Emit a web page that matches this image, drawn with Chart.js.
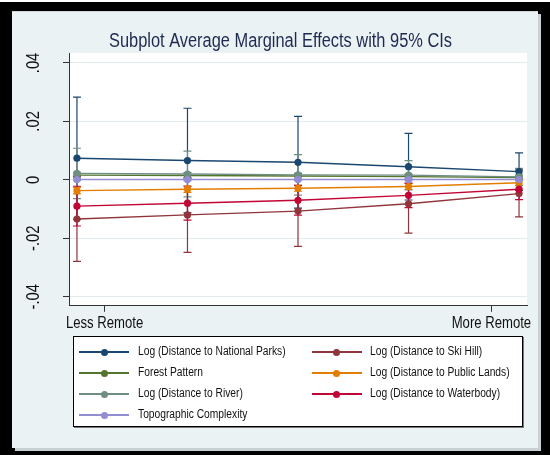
<!DOCTYPE html>
<html lang="en">

<head>
   <meta charset="UTF-8">
   <title>Subplot Average Marginal Effects</title>
   <style>
      body {
         margin: 0;
         width: 550px;
         height: 455px;
         background-color: #ffffff;
         position: relative;
         overflow: hidden;
         font-family: 'Liberation Sans', Arial, sans-serif;
      }

      #frame {
         position: absolute;
         left: 0;
         top: 2px;
         width: 550px;
         height: 453px;
         background-color: #000;
      }

      #panel {
         position: absolute;
         left: 12px;
         top: 11px;
         width: 526px;
         height: 437px;
         background-color: #eaf2f3;
         border-top: 1px solid #cfd7da;
         box-sizing: border-box;
         box-shadow: 3px 3px 0 #c9d0d3;
      }

      #myChart {
         position: absolute;
         left: 0;
         top: 0;
      }

      #legend {
         position: absolute;
         left: 73px;
         top: 336px;
         width: 450px;
         height: 91px;
         box-sizing: border-box;
         background: #fff;
         border: 1px solid #000;
         box-shadow: 1px 1px 0 #777;
      }

      .item {
         position: absolute;
         height: 20px;
         width: 230px;
      }

      .item .line {
         position: absolute;
         left: 0;
         top: 9.3px;
         width: 50px;
         height: 1.5px;
      }

      .item .dot {
         position: absolute;
         left: 21.5px;
         top: 6.5px;
         width: 7px;
         height: 7px;
         border-radius: 50%;
      }

      /* Stata exported with a narrow sans; squeeze the text to match */
      .item .text {
         position: absolute;
         left: 58.5px;
         top: 2px;
         font-size: 12.5px;
         color: #111;
         white-space: nowrap;
         transform: scaleX(0.82);
         transform-origin: left center;
      }
   </style>
</head>

<body>
   <div id="frame"></div>
   <div id="panel"></div>
   <canvas id="myChart" width="550" height="455"></canvas>
   <div id="legend"></div>

   <script src="https://cdn.jsdelivr.net/npm/chart.js"></script>
   <script>
      // remoteness steps along the x axis
      const xValues = [1, 2, 3, 4, 5];
      const xTickValues = [1.25, 4.75];
      const xTickLabels = ['Less Remote', 'More Remote'];

      const yTickValues = [-0.04, -0.02, 0, 0.02, 0.04];
      const yTickLabels = ['-.04', '-.02', '0', '.02', '.04'];

      const seriesNames = [
         'Log (Distance to National Parks)',
         'Log (Distance to Ski Hill)',
         'Forest Pattern',
         'Log (Distance to Public Lands)',
         'Log (Distance to River)',
         'Log (Distance to Waterbody)',
         'Topographic Complexity'
      ];
      const seriesColors = ['#1a476f', '#90353b', '#55752f', '#e37e00', '#6e8e84', '#c10534', '#938dd2'];

      // point estimates
      const nationalParks = [0.0074, 0.0066, 0.0060, 0.0045, 0.0028];
      const skiHill = [-0.0134, -0.0120, -0.0107, -0.0082, -0.0047];
      const forestPattern = [0.0016, 0.0015, 0.0013, 0.0011, 0.0008];
      const publicLands = [-0.0037, -0.0032, -0.0029, -0.0023, -0.0010];
      const river = [0.0022, 0.0020, 0.0017, 0.0016, 0.0010];
      const waterbody = [-0.0090, -0.0080, -0.0070, -0.0053, -0.0032];
      const topographic = [0.0001, 0.0001, 0.0001, 0.0001, 0.0001];

      // 95% CI lower / upper bounds
      const nationalParksLo = [-0.0135, -0.0113, -0.0097, -0.0069, -0.0036];
      const nationalParksHi = [0.0283, 0.0245, 0.0217, 0.0159, 0.0092];
      const skiHillLo = [-0.0279, -0.0248, -0.0228, -0.0182, -0.0127];
      const skiHillHi = [0.0011, 0.0008, 0.0014, 0.0018, 0.0033];
      const forestPatternLo = [0.0006, 0.0005, 0.0004, 0.0002, 0.0000];
      const forestPatternHi = [0.0026, 0.0025, 0.0022, 0.0020, 0.0016];
      const publicLandsLo = [-0.0048, -0.0043, -0.0039, -0.0033, -0.0020];
      const publicLandsHi = [-0.0026, -0.0021, -0.0019, -0.0013, 0.0000];
      const riverLo = [-0.0064, -0.0058, -0.0052, -0.0034, -0.0019];
      const riverHi = [0.0108, 0.0098, 0.0086, 0.0066, 0.0039];
      const waterbodyLo = [-0.0158, -0.0138, -0.0121, -0.0095, -0.0068];
      const waterbodyHi = [-0.0022, -0.0022, -0.0019, -0.0011, 0.0004];
      const topographicLo = [-0.0003, -0.0003, -0.0003, -0.0003, -0.0003];
      const topographicHi = [0.0005, 0.0005, 0.0005, 0.0005, 0.0005];

      const means = [nationalParks, skiHill, forestPattern, publicLands, river, waterbody, topographic];
      const lows = [nationalParksLo, skiHillLo, forestPatternLo, publicLandsLo, riverLo, waterbodyLo, topographicLo];
      const highs = [nationalParksHi, skiHillHi, forestPatternHi, publicLandsHi, riverHi, waterbodyHi, topographicHi];

      Chart.defaults.font.family = "'Liberation Sans', Arial, sans-serif";
      Chart.defaults.color = '#111';

      const datasets = seriesNames.map((name, i) => ({
         label: name,
         data: xValues.map((x, j) => ({ x: x, y: means[i][j] })),
         ciLow: lows[i],
         ciHigh: highs[i],
         borderColor: seriesColors[i],
         backgroundColor: seriesColors[i],
         borderWidth: 1.4,
         pointRadius: 3.6,
         pointBorderWidth: 0,
         pointHoverRadius: 4,
         order: seriesNames.length - i   // later series sit on top
      }));

      // white plot region
      const plotBackground = {
         id: 'plotBackground',
         beforeDraw(chart) {
            const { ctx, chartArea } = chart;
            ctx.save();
            ctx.fillStyle = '#ffffff';
            ctx.fillRect(chartArea.left, chartArea.top, chartArea.right - chartArea.left, chartArea.bottom - chartArea.top);
            ctx.restore();
         }
      };

      // capped CI spikes, drawn under the lines
      const errorBars = {
         id: 'errorBars',
         beforeDatasetsDraw(chart) {
            const { ctx, scales: { x, y } } = chart;
            ctx.save();
            chart.data.datasets.forEach((ds) => {
               ctx.strokeStyle = ds.borderColor;
               ctx.lineWidth = 1.2;
               ds.ciLow.forEach((lo, i) => {
                  const px = x.getPixelForValue(xValues[i]);
                  const top = y.getPixelForValue(ds.ciHigh[i]);
                  const bot = y.getPixelForValue(lo);
                  ctx.beginPath();
                  ctx.moveTo(px, top);
                  ctx.lineTo(px, bot);
                  ctx.moveTo(px - 4, top);
                  ctx.lineTo(px + 4, top);
                  ctx.moveTo(px - 4, bot);
                  ctx.lineTo(px + 4, bot);
                  ctx.stroke();
               });
            });
            ctx.restore();
         }
      };

      // y tick labels read bottom-to-top, as in Stata
      const yLabels = {
         id: 'yLabels',
         afterDraw(chart) {
            const { ctx, scales: { y } } = chart;
            ctx.save();
            ctx.font = "18px 'Liberation Sans', Arial, sans-serif";
            ctx.fillStyle = '#111';
            ctx.textAlign = 'center';
            ctx.textBaseline = 'middle';
            y.ticks.forEach((t) => {
               ctx.save();
               ctx.translate(34, y.getPixelForValue(t.value));
               ctx.rotate(-Math.PI / 2);
               ctx.fillText(yTickLabels[yTickValues.indexOf(t.value)], 0, 0);
               ctx.restore();
            });
            ctx.restore();
         }
      };

      const options = {
         responsive: false,
         animation: false,
         layout: {
            padding: { left: 34, right: 23, top: 29, bottom: 120 }
         },
         scales: {
            x: {
               type: 'linear',
               min: 0.928,
               max: 5.072,
               afterBuildTicks: (scale) => {
                  scale.ticks = xTickValues.map(v => ({ value: v }));
               },
               ticks: {
                  autoSkip: false,
                  maxRotation: 0,
                  padding: 2,
                  font: { size: 16 },
                  color: '#111',
                  callback: (value) => xTickLabels[xTickValues.indexOf(value)]
               },
               grid: {
                  drawOnChartArea: false,
                  tickLength: 6,
                  tickColor: '#333'
               },
               border: { color: '#333', width: 1 }
            },
            y: {
               min: -0.0431,
               max: 0.0434,
               afterBuildTicks: (scale) => {
                  scale.ticks = yTickValues.map(v => ({ value: v }));
               },
               afterFit: (scale) => { scale.width = 35; },
               ticks: { display: false },
               grid: {
                  color: '#e3ebee',
                  lineWidth: 1,
                  tickLength: 6,
                  tickColor: '#333'
               },
               border: { color: '#333', width: 1 }
            }
         },
         plugins: {
            legend: { display: false },
            tooltip: { enabled: false },
            title: {
               display: true,
               text: 'Subplot Average Marginal Effects with 95% CIs',
               color: '#1f2a50',
               font: { size: 20, weight: 'normal' },
               padding: 0
            }
         }
      };

      const ctx = document.getElementById('myChart').getContext('2d');

      // no narrow face installed: squeeze canvas text horizontally around its anchor
      const rawFillText = ctx.fillText;
      ctx.fillText = function (text, x, y) {
         this.save();
         this.translate(x, y);
         this.scale(0.82, 1);
         rawFillText.call(this, text, 0, 0);
         this.restore();
      };

      const myChart = new Chart(ctx, {
         type: 'line',
         data: { datasets: datasets },
         options: options,
         plugins: [plotBackground, errorBars, yLabels]
      });

      // legend box, two columns filled row by row
      const legendBox = document.getElementById('legend');
      myChart.data.datasets.forEach((ds, i) => {
         const item = document.createElement('div');
         item.className = 'item';
         item.style.left = (5 + (i % 2) * 232.5) + 'px';
         item.style.top = (5 + Math.floor(i / 2) * 21) + 'px';
         item.innerHTML = '<span class="line"></span><span class="dot"></span><span class="text"></span>';
         item.querySelector('.line').style.background = ds.borderColor;
         item.querySelector('.dot').style.background = ds.borderColor;
         item.querySelector('.text').textContent = ds.label;
         legendBox.appendChild(item);
      });
   </script>
</body>

</html>
